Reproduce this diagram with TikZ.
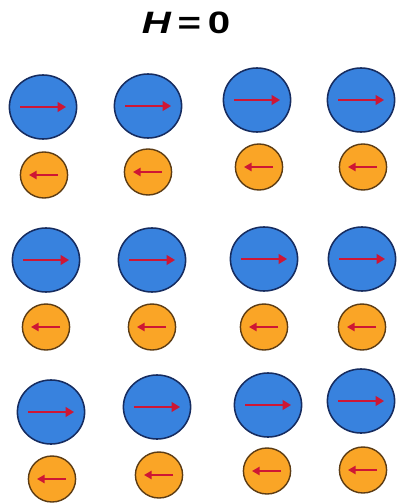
\documentclass[tikz,border=0pt]{standalone}
\usepackage{fontspec}
\setmainfont{Liberation Sans}
\usetikzlibrary{
    calc,
    arrows.meta,
    shapes.geometric
}
\definecolor{spinblue}{RGB}{56,130,222}
\definecolor{blueedge}{RGB}{22,44,96}
\definecolor{spinorange}{RGB}{250,165,38}
\definecolor{orangeedge}{RGB}{92,60,20}
\definecolor{momred}{RGB}{206,22,52}
\tikzset{
  bigspin/.style={ellipse, draw=blueedge, fill=spinblue, line width=1.1pt,
    minimum width=1.68cm, minimum height=1.6cm, inner sep=0pt},
  smallspin/.style={ellipse, draw=orangeedge, fill=spinorange, line width=1pt,
    minimum width=1.18cm, minimum height=1.15cm, inner sep=0pt},
  momarrow/.style={draw=momred, line width=1.2pt,
    -{Triangle[length=6pt,width=7pt]}},
  smallmom/.style={draw=momred, line width=1.2pt,
    -{Triangle[length=5.5pt,width=6pt]}}
}

\begin{document}
\begin{tikzpicture}[x=0.025cm, y=-0.025cm]
  \useasboundingbox (0,0) rectangle (396,504);

  \node[font=\fontsize{22}{26}\selectfont\bfseries, xscale=1.3] (title) at (186,23)
    {\itshape H\upshape\,=\,0};

  % big spins
  \node[bigspin] (A1) at (43,107) {};
  \node[bigspin] (A2) at (148,106) {};
  \node[bigspin] (A3) at (257,100) {};
  \node[bigspin] (A4) at (361,100) {};

  \node[bigspin] (A5) at (46,260) {};
  \node[bigspin] (A6) at (152,260) {};
  \node[bigspin] (A7) at (264,259) {};
  \node[bigspin] (A8) at (362,259) {};

  \node[bigspin] (A9) at (51,412) {};
  \node[bigspin] (A10) at (157,407) {};
  \node[bigspin] (A11) at (268,405) {};
  \node[bigspin] (A12) at (361,401) {};

  % small spins
  \node[smallspin] (B1) at (44,175) {};
  \node[smallspin] (B2) at (148,172) {};
  \node[smallspin] (B3) at (259,167) {};
  \node[smallspin] (B4) at (363,167) {};

  \node[smallspin] (B5) at (46,327) {};
  \node[smallspin] (B6) at (152,327) {};
  \node[smallspin] (B7) at (264,327) {};
  \node[smallspin] (B8) at (362,327) {};

  \node[smallspin] (B9) at (52,479) {};
  \node[smallspin] (B10) at (159,475) {};
  \node[smallspin] (B11) at (267,471) {};
  \node[smallspin] (B12) at (363,470) {};

  \foreach \i in {1,...,12}{
    \draw[momarrow] ($(A\i)+(-23,0)$) -- ($(A\i)+(23,0)$);
    \draw[smallmom] ($(B\i)+(14,0)$) -- ($(B\i)+(-15,0)$);
  }
\end{tikzpicture}
\end{document}
